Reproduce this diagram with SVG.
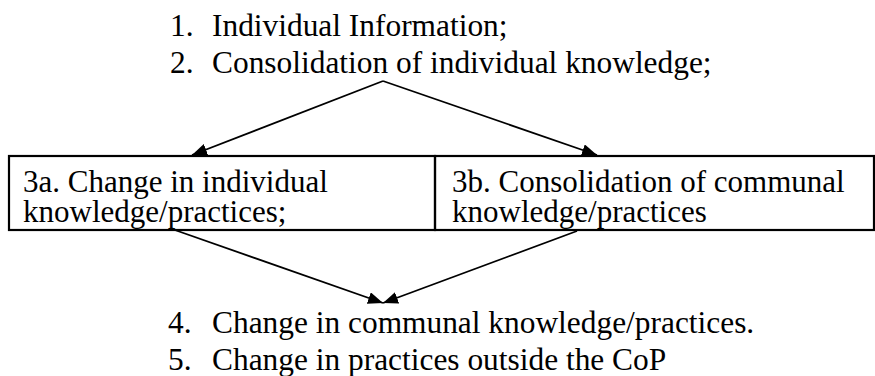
<svg xmlns="http://www.w3.org/2000/svg" width="875" height="376" viewBox="0 0 875 376">
  <style>
    text { font-family: "Liberation Serif", "Times New Roman", serif; fill: #000; }
    .list { font-size: 31.4px; }
    .cell { font-size: 31px; }
    .box { fill: none; stroke: #000; stroke-width: 2.2; }
    .edge { fill: none; stroke: #000; stroke-width: 1.8; marker-end: url(#arrow); }
  </style>
  <defs>
    <marker id="arrow" markerUnits="userSpaceOnUse" markerWidth="16" markerHeight="12" refX="15" refY="6" orient="auto">
      <path d="M0,0 L15,6 L0,12 Z" fill="#000"/>
    </marker>
  </defs>
  <rect width="875" height="376" fill="#fff"/>

  <g id="step-1-2">
    <text class="list" x="170" y="36">1.</text>
    <text class="list" x="212" y="36">Individual Information;</text>
    <text class="list" x="170" y="72.5">2.</text>
    <text class="list" x="212" y="72.5">Consolidation of individual knowledge;</text>
  </g>

  <g id="step-3a">
    <rect class="box" x="9" y="156" width="426" height="74"/>
    <text class="cell" x="23" y="192">3a. Change in individual</text>
    <text class="cell" x="23" y="222">knowledge/practices;</text>
  </g>

  <g id="step-3b">
    <rect class="box" x="435" y="156" width="439" height="74"/>
    <text class="cell" x="452" y="192">3b. Consolidation of communal</text>
    <text class="cell" x="452" y="222">knowledge/practices</text>
  </g>

  <g id="step-4-5">
    <text class="list" x="168" y="333">4.</text>
    <text class="list" x="212" y="333">Change in communal knowledge/practices.</text>
    <text class="list" x="168" y="370">5.</text>
    <text class="list" x="212" y="370">Change in practices outside the CoP</text>
  </g>

  <g id="connectors">
    <path class="edge" d="M383,81 L192,155"/>
    <path class="edge" d="M383,81 L597,155"/>
    <path class="edge" d="M172,229 L383,303"/>
    <path class="edge" d="M577,231 L383,303"/>
  </g>
</svg>
